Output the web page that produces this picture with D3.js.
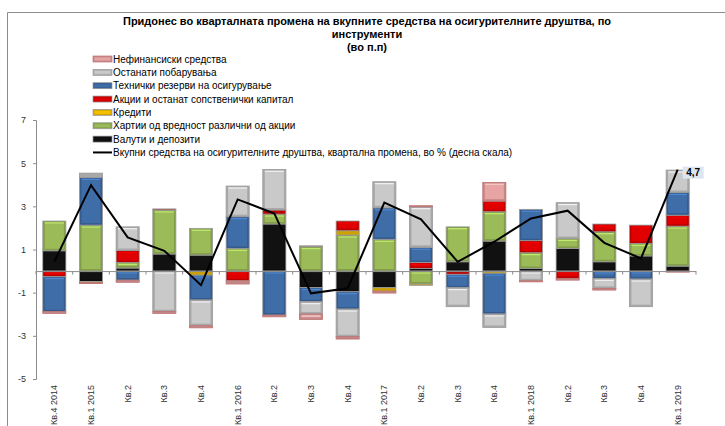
<!DOCTYPE html>
<html><head><meta charset="utf-8">
<script src="https://cdn.jsdelivr.net/npm/d3@7"></script>
<style>body{margin:0;background:#fff}svg{display:block}</style>
</head><body>
<svg id="c" width="725" height="426"></svg>
<script>
const quarters = ["Кв.4 2014","Кв.1 2015","Кв.2","Кв.3","Кв.4","Кв.1 2016","Кв.2","Кв.3","Кв.4","Кв.1 2017","Кв.2","Кв.3","Кв.4","Кв.1 2018","Кв.2","Кв.3","Кв.4","Кв.1 2019"];
const deposits   = [0.94,-0.48,0.14,0.79,0.74,0,2.18,-0.76,-0.96,-0.77,0.12,0.43,1.39,0.12,1.05,0.43,0.70,0.23];
const securities = [1.38,2.13,0.26,2.04,1.24,1.05,0.46,1.13,1.67,1.47,-0.60,1.62,1.36,0.73,0.46,1.39,0.58,1.85];
const loans      = [0,-0.06,0,0,-0.19,0,0,0,0.20,-0.16,-0.06,0,-0.10,0,0,0,0,0];
const equity     = [-0.26,0,0.55,0.05,0,-0.45,0.19,0.04,0.45,0,0.28,-0.15,0.49,0.56,-0.34,0.36,0.85,0.51];
const technical  = [-1.62,2.21,-0.42,0,-1.15,1.47,-2.04,-0.66,-0.80,1.46,0.70,-0.62,-1.89,1.45,0,-0.34,-0.37,1.05];
const otherRec   = [0,0.20,1.10,-1.88,-1.19,1.42,1.88,-0.57,-1.28,1.21,1.88,-0.88,-0.62,-0.45,1.66,-0.46,-1.28,1.04];
const nonFin     = [-0.08,-0.04,-0.10,-0.08,-0.10,-0.15,-0.08,-0.25,-0.11,-0.09,0.05,0,0.87,-0.05,-0.08,-0.08,0,-0.05];
const totalChange = [0.43,3.98,1.56,0.94,-0.65,3.32,2.67,-1.03,-0.80,3.17,2.40,0.43,1.36,2.44,2.80,1.31,0.59,4.70];
const yTicks = [-5,-3,-1,1,3,5,7];

const seriesNames = ["Валути и депозити","Хартии од вредност различни од акции","Кредити","Акции и останат сопственички капитал","Технички резерви на осигурување","Останати побарувања","Нефинансиски средства"];
const seriesData = [deposits,securities,loans,equity,technical,otherRec,nonFin];
const colors = ["#111111","#9BBB59","#F5C000","#E00000","#3F6DA8","#C9C9C9","#E8A3A3"];
const lineName = "Вкупни средства на осигурителните друштва, квартална промена, во % (десна скала)";

const svg = d3.select("#c");
const font = "'Liberation Sans', Arial, sans-serif";

// outer border
svg.append("path").attr("d","M7.5,426 V12.5 H725").attr("fill","none").attr("stroke","#8c8c8c").attr("stroke-width",1);

// title
const title = svg.append("g").attr("font-family",font).attr("font-weight","bold").attr("font-size","11px").attr("text-anchor","middle").attr("fill","#000");
title.append("text").attr("x",367).attr("y",25).text("Придонес во кварталната промена на вкупните средства на осигурителните друштва, по");
title.append("text").attr("x",367).attr("y",38).text("инструменти");
title.append("text").attr("x",367).attr("y",51).text("(во п.п)");

const x = d3.scaleBand().domain(d3.range(quarters.length)).range([36,696]).paddingInner(0.37).paddingOuter(0.185);
const y = d3.scaleLinear().domain([-5,7]).range([379,120]);

// stacking
const stacks = [];
quarters.forEach((q,i)=>{
  let pos=0, neg=0;
  seriesData.forEach((s,k)=>{
    const v=s[i];
    if(v>=0){stacks.push({i,k,y0:pos,y1:pos+v});pos+=v;}
    else {stacks.push({i,k,y0:neg+v,y1:neg});neg+=v;}
  });
});

const g = svg.append("g");
const bars = g.selectAll("g.seg").data(stacks.filter(d=>d.y1-d.y0>0)).join("g").attr("class","seg");
bars.each(function(d){
  const sel=d3.select(this);
  const x0=x(d.i), w=x.bandwidth();
  const yt=y(d.y1), yb=y(d.y0), h=Math.max(0.8,yb-yt);
  const c=d3.color(colors[d.k]);
  sel.append("rect").attr("x",x0).attr("y",yt).attr("width",w).attr("height",h)
    .attr("fill",c.darker(0.5)).attr("stroke",d.k===6?"#c07070":"#9a9a9a").attr("stroke-width",0.8);
  if(h>5){
    sel.append("rect").attr("x",x0+2).attr("y",yt+2).attr("width",w-4).attr("height",h-4).attr("fill",colors[d.k]);
    sel.append("rect").attr("x",x0+2).attr("y",yt+1.2).attr("width",w-4).attr("height",1.3).attr("fill",c.brighter(0.8)).attr("opacity",0.8);
  }
});

// zero axis
svg.append("line").attr("x1",36).attr("x2",696).attr("y1",y(0)+0.5).attr("y2",y(0)+0.5).attr("stroke","#8c8c8c").attr("stroke-width",1);
d3.range(quarters.length+1).forEach(k=>{
  const xx = 36 + k*(660/quarters.length);
  svg.append("line").attr("x1",xx).attr("x2",xx).attr("y1",y(0)).attr("y2",y(0)+3.5).attr("stroke","#8c8c8c");
});

// left axis
const ya = svg.append("g").attr("transform","translate(36,0)")
  .call(d3.axisLeft(y).tickValues(yTicks).tickSize(3).tickPadding(7).tickFormat(d=>String(d).replace("-","-")));
ya.select(".domain").attr("stroke","#8c8c8c").attr("d","M-3,120.5H0.5V379.5H-3");
ya.selectAll(".tick line").attr("stroke","#8c8c8c");
ya.selectAll("text").attr("font-family",font).attr("font-size","9px").attr("fill","#333");

// x labels
const xl = svg.append("g").attr("font-family",font).attr("font-size","9px").attr("fill","#333");
quarters.forEach((q,i)=>{
  const cx = x(i)+x.bandwidth()/2+3;
  xl.append("text").attr("transform",`translate(${cx},385) rotate(-90)`).attr("text-anchor","end").text(q);
});

// line
const line = d3.line().x((d,i)=>x(i)+x.bandwidth()/2).y(d=>y(d));
svg.append("path").datum(totalChange).attr("d",line).attr("fill","none").attr("stroke","#000").attr("stroke-width",2);

// value label for last point
const li = totalChange.length-1;
const lx = x(li)+x.bandwidth()/2, ly=y(totalChange[li]);
svg.append("rect").attr("x",lx+5).attr("y",ly-3).attr("width",21).attr("height",12).attr("fill","#DCE6F2");
svg.append("text").attr("x",lx+15.5).attr("y",ly+6.5).attr("text-anchor","middle").attr("font-family",font).attr("font-size","10px").attr("font-weight","bold").text(String(totalChange[li]).replace(".",","));

// legend
const legOrder = [6,5,4,3,2,1,0];
const lg = svg.append("g").attr("font-family",font).attr("font-size","10px").attr("fill","#000");
legOrder.forEach((k,r)=>{
  const yy = 59 + r*13.35;
  const c=d3.color(colors[k]);
  lg.append("rect").attr("x",93).attr("y",yy-3).attr("width",19).attr("height",6).attr("fill",c.darker(0.4)).attr("stroke",k===6?"#c07070":"#9a9a9a").attr("stroke-width",0.7);
  lg.append("rect").attr("x",94.5).attr("y",yy-1.5).attr("width",16).attr("height",3).attr("fill",colors[k]);
  lg.append("text").attr("x",113).attr("y",yy+3.5).text(seriesNames[k]);
});
const ly2 = 59 + 7*13.35;
lg.append("line").attr("x1",93).attr("x2",112).attr("y1",ly2).attr("y2",ly2).attr("stroke","#000").attr("stroke-width",2);
lg.append("text").attr("x",113).attr("y",ly2+3.5).text(lineName);
</script>
</body></html>
